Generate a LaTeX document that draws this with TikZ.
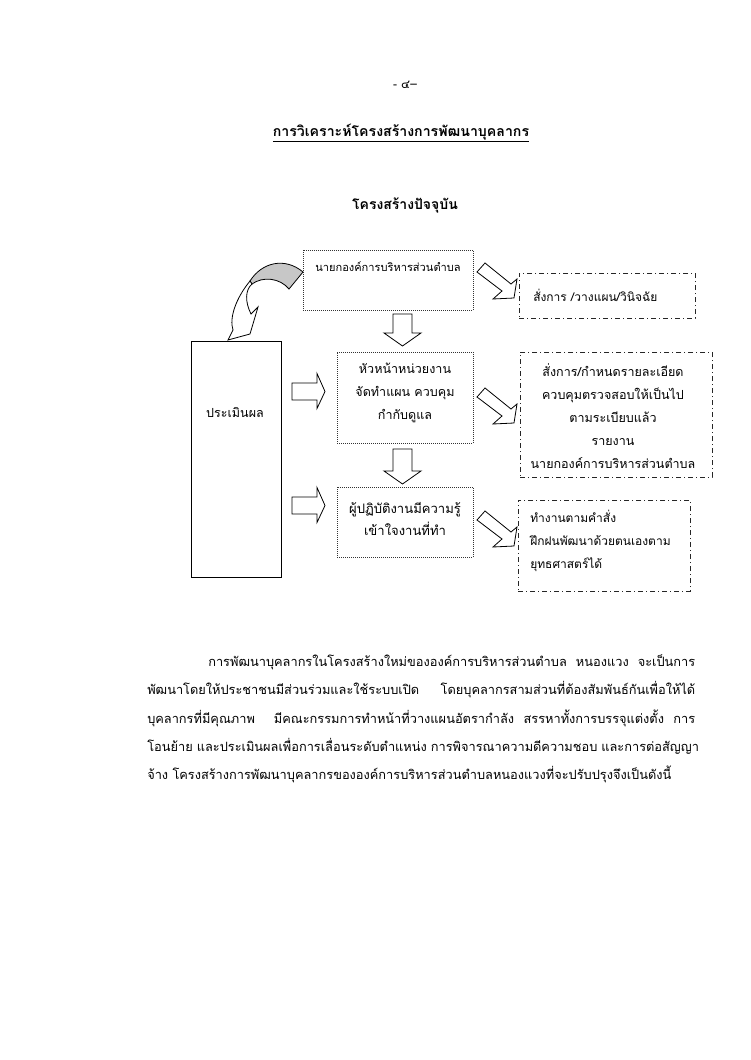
\documentclass[tikz,border=0pt]{standalone}
\usepackage{fontspec}
\setmainfont[Script=Thai]{Loma}
\XeTeXlinebreaklocale "th"
\XeTeXlinebreakskip=0pt plus 3pt
\newcommand\jline[2]{{\spaceskip=3pt plus 1pt\relax\makebox[#1][s]{#2}}}
\usetikzlibrary{positioning}
\begin{document}
\begin{tikzpicture}[x=0.75pt,y=-0.75pt,
  every node/.style={inner sep=0pt,font=\fontsize{9.4}{17.25}\selectfont},
  dotbox/.style={draw=black!80,line width=0.5pt,densely dotted},
  solidbox/.style={draw=black,line width=0.6pt},
  ddbox/.style={draw=black!85,line width=0.6pt,dash pattern=on 4pt off 2pt on 1pt off 2pt},
  blockarrow/.style={draw=black,line width=0.6pt,fill=white,line join=miter},
  para/.style={anchor=west,font=\fontsize{9.6}{14}\selectfont}
]
\useasboundingbox (0,0) rectangle (750,1060);
\fill[white] (0,0) rectangle (750,1060);

% header
\node[font=\fontsize{9}{11}\selectfont] (pg) at (405,85) {- ๔–};
\node[font=\bfseries\fontsize{10.6}{14}\selectfont] (title) at (401,133) {\underline{การวิเคราะห์โครงสร้างการพัฒนาบุคลากร}};
\node[font=\bfseries\fontsize{10.5}{15}\selectfont] (sub) at (405,205) {โครงสร้างปัจจุบัน};

% boxes
\node[dotbox,minimum width=127.5pt,minimum height=45pt] (b1) at (388,280) {};
\node[font=\fontsize{8.3}{12}\selectfont] (b1t) at (388,267) {นายกองค์การบริหารส่วนตำบล};
\node[dotbox,minimum width=102pt,minimum height=68.25pt] (b2) at (405,397.5) {};
\node[align=center] (b2t) at (405,393) {หัวหน้าหน่วยงาน\\จัดทำแผน ควบคุม\\กำกับดูแล};
\node[dotbox,minimum width=102pt,minimum height=52.5pt] (b3) at (405,522) {};
\node[align=center,font=\fontsize{9.8}{16.5}\selectfont] (b3t) at (405,519) {ผู้ปฏิบัติงานมีความรู้\\เข้าใจงานที่ทำ};
\node[solidbox,minimum width=67.5pt,minimum height=177pt] (ev) at (236,459) {};
\node (evt) at (235,412) {ประเมินผล};

\node[ddbox,minimum width=132pt,minimum height=33.75pt] (d1) at (607,295.5) {};
\node[anchor=west,font=\fontsize{9}{12}\selectfont] (d1t) at (533,295) {สั่งการ /วางแผน/วินิจฉัย};
\node[ddbox,minimum width=144pt,minimum height=93.75pt] (d2) at (616,414.5) {};
\node[align=center] (d2t) at (613,416) {สั่งการ/กำหนดรายละเอียด\\ควบคุมตรวจสอบให้เป็นไป\\ตามระเบียบแล้ว\\รายงาน\\นายกองค์การบริหารส่วนตำบล};
\node[ddbox,minimum width=129pt,minimum height=68.25pt] (d3) at (604,545.5) {};
\node[align=left,anchor=west,font=\fontsize{9}{17.25}\selectfont] (d3t) at (530,541) {ทำงานตามคำสั่ง\\ฝึกฝนพัฒนาด้วยตนเองตาม\\ยุทธศาสตร์ได้};

% down block arrows
\draw[blockarrow] (393,314) -- (412,314) -- (412,333) -- (421,333) -- (402.5,346) -- (384,333) -- (393,333) -- cycle;
\draw[blockarrow] (393,449) -- (412,449) -- (412,471) -- (421,471) -- (402.5,484) -- (384,471) -- (393,471) -- cycle;

% right block arrows
\foreach \cy in {391.5,505.5}{
  \draw[blockarrow] (292,\cy-8.5) -- (317,\cy-8.5) -- (317,\cy-18) -- (325,\cy) -- (317,\cy+17) -- (317,\cy+8.5) -- (292,\cy+8.5) -- cycle;
}

% diagonal block arrows
\foreach \px/\py in {477/272, 477/397, 477/520}{
  \draw[blockarrow,shift={(\px,\py)}] (0,0) -- (8,-9) -- (34,12) -- (40,7) -- (37,26) -- (16,27) -- (25,19) -- cycle;
}

% curved arrow
\draw[line width=0.6pt,fill=black!22] (303,272) .. controls (285,257) and (262,262) .. (250,281) -- (252,284) .. controls (263,276) and (280,278) .. (289,289) -- cycle;
\draw[line width=0.6pt,fill=white,line join=miter] (250,281) .. controls (236,298) and (229,318) .. (233,330) -- (228,340) -- (250,334) -- (258,307) -- (251,314) .. controls (245,302) and (245,290) .. (252,284) -- cycle;

% paragraph
\node[para] (p1) at (208,662) {\jline{365.25pt}{การพัฒนาบุคลากรในโครงสร้างใหม่ขององค์การบริหารส่วนตำบล หนองแวง จะเป็นการ}};
\node[para] (p2) at (147,690) {\jline{411pt}{พัฒนาโดยให้ประชาชนมีส่วนร่วมและใช้ระบบเปิด\ \ โดยบุคลากรสามส่วนที่ต้องสัมพันธ์กันเพื่อให้ได้}};
\node[para] (p3) at (147,718) {\jline{411pt}{บุคลากรที่มีคุณภาพ\ \ มีคณะกรรมการทำหน้าที่วางแผนอัตรากำลัง สรรหาทั้งการบรรจุแต่งตั้ง การ}};
\node[para] (p4) at (147,746) {\jline{411pt}{โอนย้าย และประเมินผลเพื่อการเลื่อนระดับตำแหน่ง การพิจารณาความดีความชอบ และการต่อสัญญา}};
\node[para] (p5) at (147,774) {จ้าง โครงสร้างการพัฒนาบุคลากรขององค์การบริหารส่วนตำบลหนองแวงที่จะปรับปรุงจึงเป็นดังนี้};
\end{tikzpicture}
\end{document}
